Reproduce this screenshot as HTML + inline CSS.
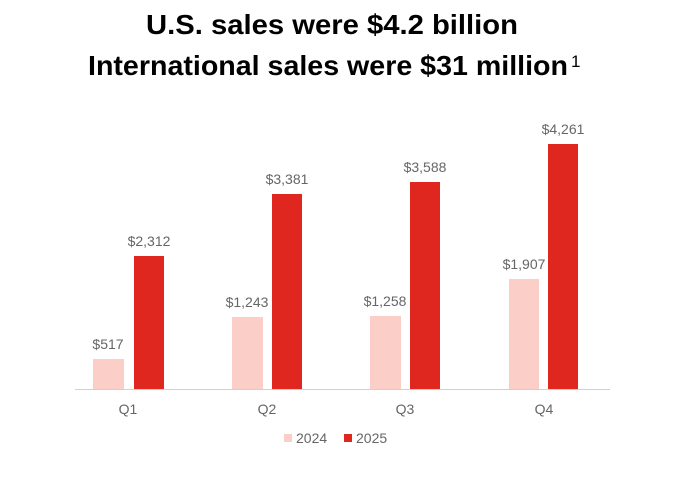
<!DOCTYPE html>
<html><head><style>body{margin:0;background:#fff}</style></head><body>
<svg width="680" height="484" xmlns="http://www.w3.org/2000/svg" style="display:block">
<rect width="680" height="484" fill="#fff"/>
<g font-family="Liberation Sans, sans-serif" font-weight="bold" fill="#000" font-size="28">
<text x="146" y="34" textLength="372" lengthAdjust="spacingAndGlyphs">U.S. sales were $4.2 billion</text>
<text x="88" y="75" textLength="480" lengthAdjust="spacingAndGlyphs">International sales were $31 million</text>
</g>
<text x="571" y="67" font-family="Liberation Sans, sans-serif" font-size="17" fill="#000">1</text>
<line x1="75" y1="389.5" x2="610" y2="389.5" stroke="#d0d0d0" stroke-width="1"/>
<g fill="#fbcfc8">
<rect x="93" y="359" width="31" height="30"/>
<rect x="232" y="317" width="31" height="72"/>
<rect x="370" y="316" width="31" height="73"/>
<rect x="509" y="279" width="30" height="110"/>
</g>
<g fill="#e0271f">
<rect x="134" y="256" width="30" height="133"/>
<rect x="272" y="194" width="30" height="195"/>
<rect x="410" y="182" width="30" height="207"/>
<rect x="548" y="144" width="30" height="245"/>
</g>
<g font-family="Liberation Sans, sans-serif" font-size="14" fill="#666" text-anchor="middle">
<text x="108" y="349">$517</text>
<text x="149" y="246">$2,312</text>
<text x="247" y="307">$1,243</text>
<text x="287" y="184">$3,381</text>
<text x="385" y="306">$1,258</text>
<text x="425" y="172">$3,588</text>
<text x="524" y="269">$1,907</text>
<text x="563" y="134">$4,261</text>
<text x="128" y="414">Q1</text>
<text x="267" y="414">Q2</text>
<text x="405" y="414">Q3</text>
<text x="544" y="414">Q4</text>
</g>
<rect x="284" y="434" width="8" height="8" fill="#fbcfc8"/>
<text x="296" y="443" font-family="Liberation Sans, sans-serif" font-size="14" fill="#666">2024</text>
<rect x="344" y="434" width="8" height="8" fill="#e0271f"/>
<text x="356" y="443" font-family="Liberation Sans, sans-serif" font-size="14" fill="#666">2025</text>
</svg>
</body></html>
